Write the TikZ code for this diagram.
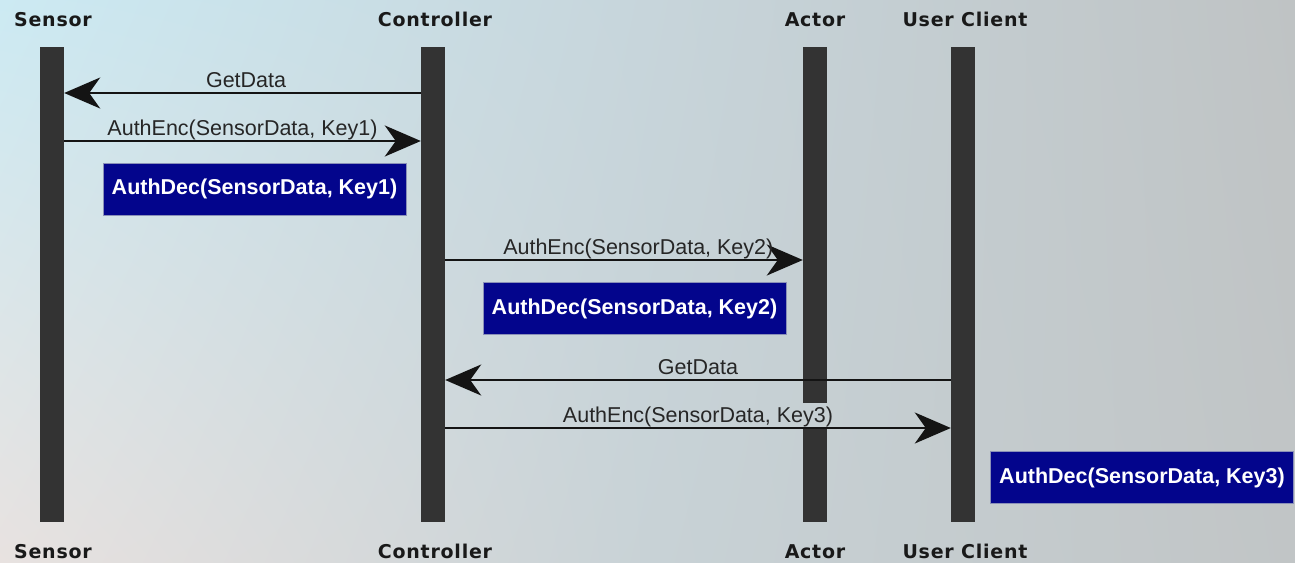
\documentclass[tikz,border=0pt]{standalone}
\usepackage{fontspec}
\setmainfont{Liberation Sans}
\newfontfamily\hdrfont[LetterSpace=4.0]{DejaVu Sans}
\usetikzlibrary{arrows.meta,shadings}

\definecolor{barcol}{HTML}{333333}
\definecolor{boxblue}{HTML}{03058C}
\definecolor{boxedge}{HTML}{8A90B8}
\definecolor{bgA}{RGB}{204,234,243}
\definecolor{bgB}{RGB}{199,213,219}
\definecolor{bgC}{RGB}{232,226,224}
\definecolor{bgD}{RGB}{200,210,214}
\definecolor{bgE}{RGB}{191,195,196}
\definecolor{bgF}{RGB}{193,197,198}

\begin{document}
\begin{tikzpicture}[x=1pt,y=-1pt,
  lifeline/.style={fill=barcol, minimum width=24pt, minimum height=475pt, inner sep=0pt},
  lifeframe/.style={minimum width=24pt, minimum height=475pt, inner sep=0pt},
  hdr/.style={font=\hdrfont\bfseries\fontsize{19}{19}\selectfont, text=black!90, anchor=base, inner sep=0pt},
  msg/.style={draw=black!92, line width=2.3pt, -{Stealth[length=36pt,width=31pt,inset=11pt]}},
  msglabel/.style={font=\fontsize{21.5}{21.5}\selectfont, text=black!85, anchor=base, inner sep=0pt, yshift=5.5pt},
  decbox/.style={fill=boxblue, draw=boxedge, line width=1pt, minimum width=303pt, minimum height=52pt,
    inner sep=0pt, text=white, font=\bfseries\fontsize{21.5}{21.5}\selectfont}]

\useasboundingbox (0,0) rectangle (1295,562);

% background wash
\shade[upper left=bgA, upper right=bgB, lower left=bgC, lower right=bgD]
  (0,0) rectangle (650,562);
\shade[upper left=bgB, upper right=bgE, lower left=bgD, lower right=bgF]
  (649.5,0) rectangle (1295,562);

% lifelines
\node[lifeline] (sen) at (52,284.5) {};
\node[lifeline] (ctl) at (433,284.5) {};
\node[lifeframe] (act) at (815,284.5) {};
\node[lifeline] (usr) at (963,284.5) {};

% message rows
\coordinate (r1) at (0,93);
\coordinate (r2) at (0,141);
\coordinate (r3) at (0,260);
\coordinate (r4) at (0,380);
\coordinate (r5) at (0,428);
\coordinate (gaptop) at (0,403);

% actor lifeline, interrupted behind the third message label
\fill[barcol] (act.north west) rectangle (act.east |- gaptop);
\fill[barcol] (act.west |- r5) rectangle (act.south east);

% participant names
\node[hdr] (hsen) at (53,27) {Sensor};
\node[hdr] (hctl) at (435,27) {Controller};
\node[hdr] (hact) at (815,27) {Actor};
\node[hdr] (husr) at (965,27) {User Client};
\node[hdr] (fsen) at (53,558) {Sensor};
\node[hdr] (fctl) at (435,558) {Controller};
\node[hdr] (fact) at (815,558) {Actor};
\node[hdr] (fusr) at (965,558) {User Client};

% messages
\draw[msg] (ctl.west |- r1) -- node[msglabel, pos=0.49] (l1) {GetData} (sen.east |- r1);
\draw[msg] (sen.east |- r2) -- node[msglabel, pos=0.5] (l2) {AuthEnc(SensorData, Key1)} (ctl.west |- r2);
\draw[msg] (ctl.east |- r3) -- node[msglabel, pos=0.54] (l3) {AuthEnc(SensorData, Key2)} (act.west |- r3);
\draw[msg] (usr.west |- r4) -- node[msglabel, pos=0.5] (l4) {GetData} (ctl.east |- r4);
\draw[msg] (ctl.east |- r5) -- node[msglabel, pos=0.5] (l5) {AuthEnc(SensorData, Key3)} (usr.west |- r5);

% decryption steps
\node[decbox] (d1) at (254.5,189) {AuthDec(SensorData, Key1)};
\node[decbox] (d2) at (634.5,308.5) {AuthDec(SensorData, Key2)};
\node[decbox] (d3) at (1142,477.5) {AuthDec(SensorData, Key3)};
\end{tikzpicture}
\end{document}
